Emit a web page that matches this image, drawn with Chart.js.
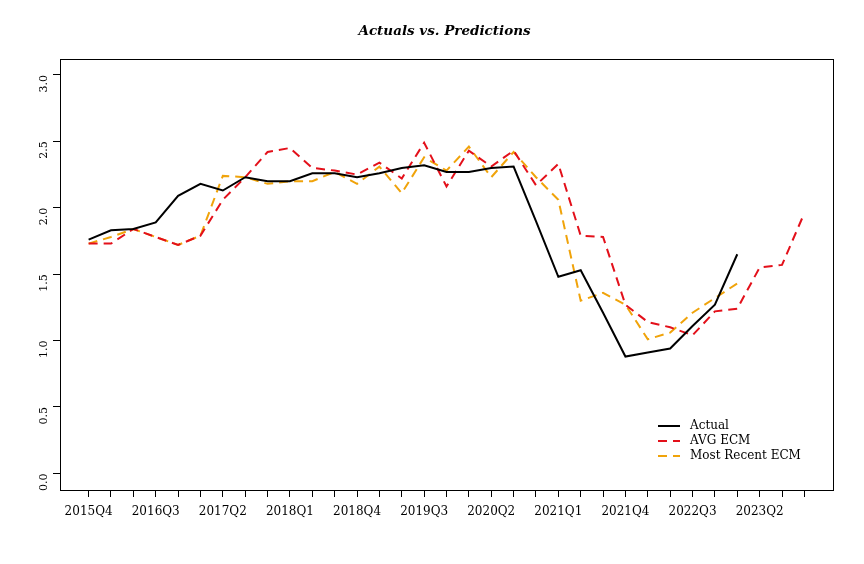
<!DOCTYPE html>
<html>
<head>
<meta charset="utf-8">
<script src="https://cdn.jsdelivr.net/npm/chart.js@4"></script>
<style>
  html, body { margin: 0; padding: 0; background: #fff; }
  #wrap { width: 864px; height: 564px; }
</style>
</head>
<body>
<div id="wrap"><canvas id="chart" width="864" height="564"></canvas></div>
<script>
const quarters = ['2015Q4','2016Q1','2016Q2','2016Q3','2016Q4','2017Q1','2017Q2','2017Q3','2017Q4',
  '2018Q1','2018Q2','2018Q3','2018Q4','2019Q1','2019Q2','2019Q3','2019Q4','2020Q1','2020Q2',
  '2020Q3','2020Q4','2021Q1','2021Q2','2021Q3','2021Q4','2022Q1','2022Q2','2022Q3','2022Q4',
  '2023Q1','2023Q2','2023Q3','2023Q4']

const actual = [1.76,1.83,1.84,1.89,2.09,2.18,2.13,2.23,2.20,2.20,2.26,2.26,2.23,2.26,2.30,2.32,
  2.27,2.27,2.30,2.31,1.90,1.48,1.53,1.21,0.88,0.91,0.94,1.11,1.27,1.65]

const avgEcm = [1.73,1.73,1.84,1.78,1.72,1.79,2.06,2.23,2.42,2.45,2.30,2.28,2.25,2.34,2.22,2.49,
  2.16,2.43,2.31,2.43,2.17,2.33,1.79,1.78,1.27,1.14,1.10,1.04,1.22,1.24,1.55,1.57,1.96]

const recentEcm = [1.73,1.78,1.84,1.78,1.72,1.79,2.24,2.23,2.18,2.20,2.20,2.27,2.18,2.31,2.11,2.38,
  2.28,2.46,2.23,2.42,2.23,2.06,1.30,1.36,1.27,1.01,1.06,1.21,1.32,1.43]

const yTicks = [0, 0.5, 1, 1.5, 2, 2.5, 3]

const toPoints = arr => arr.map((v, i) => ({ x: i, y: v }))
const serif = 'DejaVu Serif'

const boxAndTitle = {
  id: 'boxAndTitle',
  afterDraw(chart) {
    const { ctx, chartArea: a } = chart
    ctx.save()
    ctx.strokeStyle = '#000'
    ctx.lineWidth = 1
    ctx.strokeRect(a.left + 0.5, a.top + 0.5, a.right - a.left, a.bottom - a.top)

    ctx.fillStyle = '#000'
    ctx.font = 'italic bold 13.5px "' + serif + '"'
    ctx.textAlign = 'center'
    ctx.textBaseline = 'middle'
    ctx.fillText('Actuals vs. Predictions', (a.left + a.right) / 2 - 2, 31)

    // legend inside the plot
    ctx.font = '12px "' + serif + '"'
    ctx.textAlign = 'left'
    const lx = a.right - 175
    let ly = a.bottom - 64
    chart.data.datasets.forEach(ds => {
      ctx.beginPath()
      ctx.strokeStyle = ds.borderColor
      ctx.lineWidth = 2
      ctx.setLineDash(ds.borderDash || [])
      ctx.moveTo(lx, ly)
      ctx.lineTo(lx + 22, ly)
      ctx.stroke()
      ctx.setLineDash([])
      ctx.fillText(ds.label, lx + 32, ly)
      ly += 15
    })
    ctx.restore()
  }
}

new Chart(document.getElementById('chart'), {
  type: 'line',
  data: {
    datasets: [
      { label: 'Actual', data: toPoints(actual), borderColor: '#000000', borderWidth: 2 },
      { label: 'AVG ECM', data: toPoints(avgEcm), borderColor: '#e3101a', borderWidth: 2, borderDash: [9, 6] },
      { label: 'Most Recent ECM', data: toPoints(recentEcm), borderColor: '#f0a30a', borderWidth: 2, borderDash: [9, 6] }
    ]
  },
  options: {
    responsive: false,
    animation: false,
    layout: { padding: { top: 59, right: 31, left: 0, bottom: 0 } },
    elements: { point: { radius: 0 }, line: { tension: 0 } },
    plugins: { legend: { display: false }, tooltip: { enabled: false } },
    scales: {
      x: {
        type: 'linear',
        min: -1.28,
        max: quarters.length - 1 + 1.28,
        afterBuildTicks: s => { s.ticks = quarters.map((q, i) => ({ value: i })) },
        afterFit: s => { s.height = 74 },
        grid: { drawOnChartArea: false, drawTicks: true, tickLength: 7, color: '#000' },
        border: { display: false },
        ticks: {
          autoSkip: false,
          maxRotation: 0,
          color: '#000',
          font: { family: serif, size: 12 },
          padding: 8,
          callback: (v) => (Number.isInteger(v) && v % 3 === 0) ? quarters[v] : ''
        }
      },
      y: {
        min: -0.125,
        max: 3.12,
        afterBuildTicks: s => { s.ticks = yTicks.map(v => ({ value: v })) },
        afterFit: s => { s.width = 60 },
        grid: { drawOnChartArea: false, drawTicks: true, tickLength: 7, color: '#000' },
        border: { display: false },
        ticks: {
          minRotation: 90,
          maxRotation: 90,
          color: '#000',
          font: { family: serif, size: 11 },
          padding: 9,
          callback: v => v.toFixed(1)
        }
      }
    }
  },
  plugins: [boxAndTitle]
})
</script>
</body>
</html>
